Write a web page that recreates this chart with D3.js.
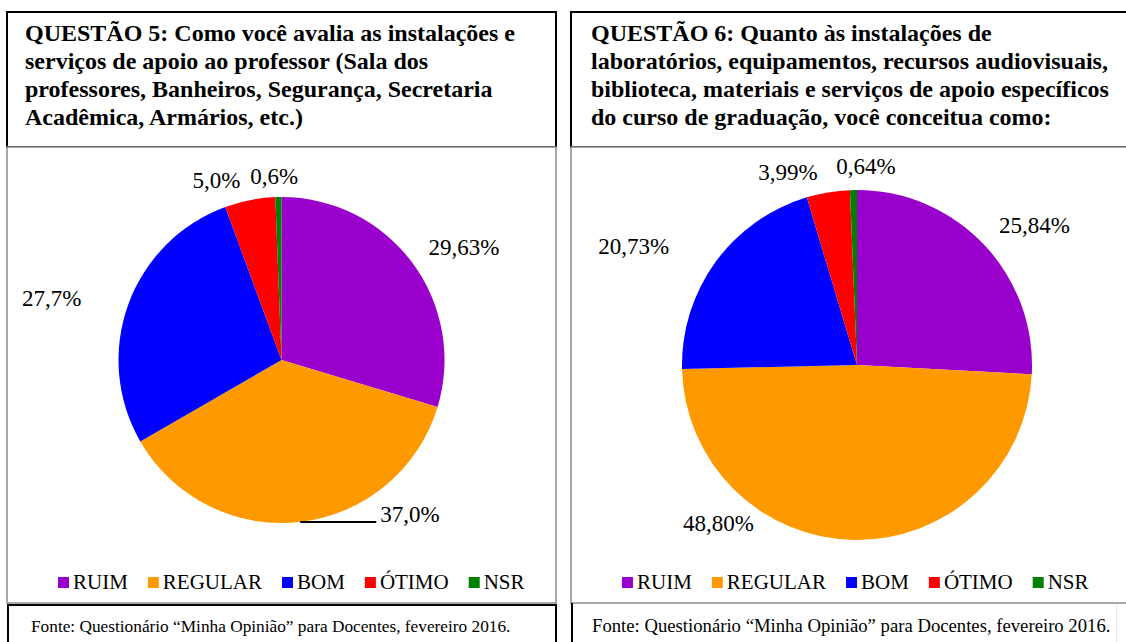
<!DOCTYPE html>
<html>
<head>
<meta charset="utf-8">
<script src="https://cdn.jsdelivr.net/npm/d3@7"></script>
<style>
  body { margin: 0; background: #fff; }
</style>
</head>
<body>
<svg id="canvas" width="1126" height="642"></svg>
<script>
// data
const categories = ["RUIM", "REGULAR", "BOM", "ÓTIMO", "NSR"];
const sliceColors = ["#9900cc", "#ff9900", "#0000ff", "#ff0000", "#008000"];

const q5Values = [29.63, 37.0, 27.7, 5.0, 0.6];
const q5Labels = ["29,63%", "37,0%", "27,7%", "5,0%", "0,6%"];
const q5Title = [
    "QUESTÃO 5: Como você avalia as instalações e",
    "serviços de apoio ao professor (Sala dos",
    "professores, Banheiros, Segurança, Secretaria",
    "Acadêmica, Armários, etc.)"
];

const q6Values = [25.84, 48.80, 20.73, 3.99, 0.64];
const q6Labels = ["25,84%", "48,80%", "20,73%", "3,99%", "0,64%"];
const q6Title = [
    "QUESTÃO 6: Quanto às instalações de",
    "laboratórios, equipamentos, recursos audiovisuais,",
    "biblioteca, materiais e serviços de apoio específicos",
    "do curso de graduação, você conceitua como:"
];

const sourceText = "Fonte: Questionário “Minha Opinião” para Docentes, fevereiro 2016.";

const FONT = "'Liberation Serif', 'Times New Roman', Times, serif";

const svg = d3.select("#canvas");

const color = d3.scaleOrdinal().domain(categories).range(sliceColors);

// label placement: [angle shift in degrees, radius factor]
const panels = [
    {
        values: q5Values, labels: q5Labels, title: q5Title,
        x0: 7, x1: 556, cx: 281.5, cy: 360, r: 163,
        textX: 25, legendX: 58, footerX: 31, footerSize: 17.3,
        nudge: [[4.8, 1.317], null, [-4.8, 1.46], [-8.7, 1.174], [-1.2, 1.13]],
        leader: 1, leaderLen: 76, closedFooter: true
    },
    {
        values: q6Values, labels: q6Labels, title: q6Title,
        x0: 571, x1: 1140, cx: 857, cy: 365, r: 175,
        textX: 591, legendX: 622, footerX: 592, footerSize: 18.7,
        nudge: [[5.3, 1.29], [40.4, 1.2], [-8, 1.446], [-10.2, 1.17], [3.7, 1.137]],
        leader: -1, closedFooter: false
    }
];

const polar = (cx, cy, R, a) => [cx + R * Math.sin(a), cy - R * Math.cos(a)];

const drawPanel = (p) => {
    const g = svg.append("g");

    // title box
    g.append("rect")
        .attr("x", p.x0).attr("y", 12)
        .attr("width", p.x1 - p.x0).attr("height", 135)
        .attr("fill", "none").attr("stroke", "#000").attr("stroke-width", 2);

    // chart box
    g.append("rect")
        .attr("x", p.x0).attr("y", 147)
        .attr("width", p.x1 - p.x0).attr("height", 456)
        .attr("fill", "#fff").attr("stroke", "#8c8c8c").attr("stroke-width", 1.5);

    // footer box
    if (p.closedFooter) {
        g.append("rect")
            .attr("x", p.x0 + 1).attr("y", 605)
            .attr("width", p.x1 - p.x0 - 1).attr("height", 60)
            .attr("fill", "none").attr("stroke", "#000").attr("stroke-width", 2);
    } else {
        g.append("line")
            .attr("x1", p.x0 + 1).attr("x2", p.x0 + 1)
            .attr("y1", 603).attr("y2", 642)
            .attr("stroke", "#000").attr("stroke-width", 2);
        g.append("line")
            .attr("x1", 1116.5).attr("x2", 1116.5)
            .attr("y1", 604).attr("y2", 642)
            .attr("stroke", "#e6e6e6").attr("stroke-width", 1);
    }

    g.append("text")
        .attr("x", p.textX).attr("y", 41)
        .attr("font-family", FONT)
        .attr("font-weight", "bold").attr("font-size", 24)
        .selectAll("tspan")
        .data(p.title)
        .enter()
        .append("tspan")
        .attr("x", p.textX)
        .attr("dy", (d, i) => i === 0 ? 0 : 28)
        .text(d => d);

    const pie = d3.pie().sort(null).value(d => d)(p.values);
    const arc = d3.arc().innerRadius(0).outerRadius(p.r);

    g.append("g")
        .attr("transform", `translate(${p.cx},${p.cy})`)
        .selectAll("path")
        .data(pie)
        .enter()
        .append("path")
        .attr("d", arc)
        .attr("fill", (d, i) => color(categories[i]));

    pie.forEach((d, i) => {
        const mid = (d.startAngle + d.endAngle) / 2;
        if (i === p.leader) {
            const [ax, ay] = polar(p.cx, p.cy, p.r, mid);
            g.append("line")
                .attr("x1", ax).attr("y1", ay)
                .attr("x2", ax + p.leaderLen).attr("y2", ay)
                .attr("stroke", "#000").attr("stroke-width", 2);
            g.append("text")
                .attr("x", ax + p.leaderLen + 4).attr("y", ay)
                .attr("font-family", FONT)
                .attr("font-size", 23)
                .text(p.labels[i]);
        } else {
            const [dA, k] = p.nudge[i];
            const [lx, ly] = polar(p.cx, p.cy, p.r * k, mid + dA * Math.PI / 180);
            g.append("text")
                .attr("x", lx).attr("y", ly)
                .attr("dy", "0.35em")
                .attr("text-anchor", "middle")
                .attr("font-family", FONT)
                .attr("font-size", 23)
                .text(p.labels[i]);
        }
    });

    // legend
    const legend = g.append("g");
    let x = p.legendX;
    categories.forEach((c) => {
        legend.append("rect")
            .attr("x", x).attr("y", 577)
            .attr("width", 11).attr("height", 11)
            .attr("fill", color(c));
        const t = legend.append("text")
            .attr("x", x + 15).attr("y", 589)
            .attr("font-family", FONT)
            .attr("font-size", 21)
            .text(c);
        x += 15 + t.node().getComputedTextLength() + 20;
    });

    g.append("text")
        .attr("x", p.footerX).attr("y", 632)
        .attr("font-family", FONT)
        .attr("font-size", p.footerSize)
        .text(sourceText);
};

panels.forEach(drawPanel);
</script>
</body>
</html>
